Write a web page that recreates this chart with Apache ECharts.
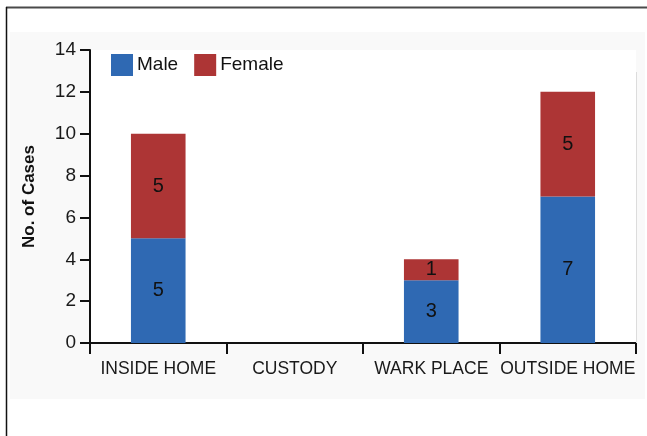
<!DOCTYPE html>
<html>
<head>
<meta charset="utf-8">
<script src="https://cdn.jsdelivr.net/npm/echarts@6/dist/echarts.min.js"></script>
<style>
  html, body { margin: 0; padding: 0; background: #ffffff; }
  #chart { width: 647px; height: 436px; }
</style>
</head>
<body>
<div id="chart"></div>
<script>
// Place of incident, split by sex
const categories = ['INSIDE HOME', 'CUSTODY', 'WARK PLACE', 'OUTSIDE HOME'];
const maleCases = [5, 0, 3, 7];
const femaleCases = [5, 0, 1, 5];
const yTicks = [0, 2, 4, 6, 8, 10, 12, 14];

const FONT = '"Liberation Sans Narrow", "Liberation Sans", Arial, sans-serif';
const BLUE = '#2f69b3';
const RED = '#ad3535';

const chart = echarts.init(document.getElementById('chart'), null, { renderer: 'canvas' });

const segLabel = {
  show: true,
  position: 'inside',
  color: '#111',
  fontFamily: FONT,
  fontSize: 20,
  formatter: p => (p.value > 0 ? String(p.value) : '')
};

chart.setOption({
  animation: false,
  backgroundColor: '#ffffff',
  graphic: [
    // light panel behind the chart
    { type: 'rect', z: -10, shape: { x: 10, y: 32, width: 635, height: 367 }, style: { fill: '#f9f9f9' } },
    // frame: top and left rules
    { type: 'line', z: 10, shape: { x1: 6, y1: 7.5, x2: 647, y2: 7.5 }, style: { stroke: '#4a4a4a', lineWidth: 2 } },
    { type: 'line', z: 10, shape: { x1: 6.5, y1: 7, x2: 6.5, y2: 436 }, style: { stroke: '#111', lineWidth: 1.5 } },
    // faint right edge of the plot
    { type: 'line', z: 1, shape: { x1: 636.5, y1: 72, x2: 636.5, y2: 343 }, style: { stroke: '#dcdcdc', lineWidth: 1 } }
  ],
  legend: {
    left: 106,
    top: 49,
    itemWidth: 22,
    itemHeight: 22,
    itemGap: 16,
    icon: 'rect',
    textStyle: { fontFamily: FONT, fontSize: 19, color: '#111', padding: [0, 0, 0, -1] },
    data: ['Male', 'Female']
  },
  grid: {
    left: 90,
    right: 11,
    top: 50,
    bottom: 93,
    show: true,
    backgroundColor: '#ffffff',
    borderWidth: 0
  },
  xAxis: {
    type: 'category',
    data: categories,
    axisLine: { lineStyle: { color: '#111', width: 2 } },
    axisTick: { show: true, length: 11, lineStyle: { color: '#111', width: 2 } },
    axisLabel: { interval: 0, fontFamily: FONT, fontSize: 17.5, color: '#1a1a1a', margin: 17 }
  },
  yAxis: {
    type: 'value',
    min: 0,
    max: 14,
    interval: 2,
    name: 'No. of Cases',
    nameLocation: 'middle',
    nameGap: 52,
    nameTextStyle: { fontFamily: FONT, fontSize: 17, fontWeight: 'bold', color: '#111' },
    axisLine: { show: true, lineStyle: { color: '#111', width: 2 } },
    axisTick: { show: true, length: 10, lineStyle: { color: '#111', width: 2 } },
    axisLabel: {
      fontFamily: FONT, fontSize: 19, color: '#1a1a1a', margin: 14,
      formatter: v => (yTicks.includes(v) ? String(v) : '')
    },
    splitLine: { show: false }
  },
  series: [
    {
      name: 'Male',
      type: 'bar',
      stack: 'cases',
      data: maleCases,
      barWidth: '40%',
      itemStyle: { color: BLUE },
      label: segLabel
    },
    {
      name: 'Female',
      type: 'bar',
      stack: 'cases',
      data: femaleCases,
      barWidth: '40%',
      itemStyle: { color: RED },
      label: segLabel
    }
  ]
});
</script>
</body>
</html>
